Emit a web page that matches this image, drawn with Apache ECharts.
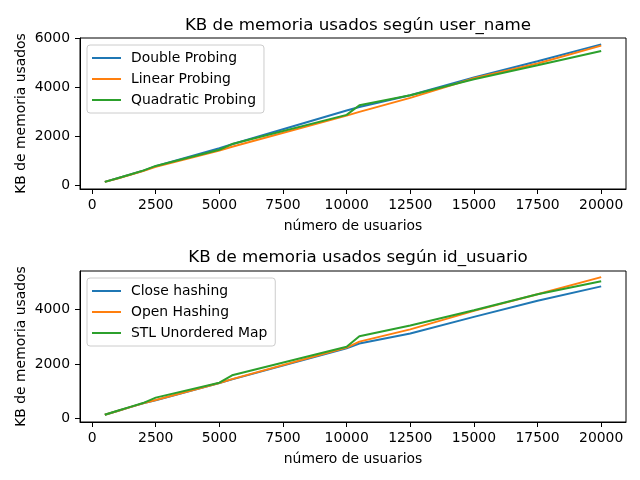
<!DOCTYPE html>
<html>
<head>
<meta charset="utf-8">
<script src="https://cdn.jsdelivr.net/npm/echarts@6/dist/echarts.min.js"></script>
<style>html,body{margin:0;padding:0;background:#fff}#c{width:640px;height:480px}</style>
</head>
<body>
<div id="c"></div>
<script>
const xs = [500, 1000, 1500, 2000, 2500, 5000, 5500, 10000, 10500, 12500, 15000, 17500, 20000];
const doubleProbing    = [150, 300, 450, 600, 790, 1520, 1680, 3060, 3200, 3680, 4400, 5060, 5750];
const linearProbing    = [150, 290, 440, 590, 760, 1430, 1580, 2850, 3000, 3570, 4370, 4970, 5700];
const quadraticProbing = [150, 300, 450, 610, 800, 1460, 1690, 2880, 3270, 3680, 4330, 4900, 5480];
const closeHashing     = [130, 270, 410, 550, 660, 1300, 1430, 2570, 2750, 3120, 3730, 4320, 4850];
const openHashing      = [130, 270, 410, 550, 670, 1300, 1440, 2600, 2820, 3270, 3950, 4560, 5190];
const stlUnordered     = [130, 280, 420, 560, 760, 1310, 1580, 2630, 3020, 3410, 3970, 4560, 5040];
const xTicks = [0, 2500, 5000, 7500, 10000, 12500, 15000, 17500, 20000];
const yTicksTop = [0, 2000, 4000, 6000];
const yTicksBottom = [0, 2000, 4000];
const titles = ['KB de memoria usados según user_name', 'KB de memoria usados según id_usuario'];
const topNames = ['Double Probing', 'Linear Probing', 'Quadratic Probing'];
const bottomNames = ['Close hashing', 'Open Hashing', 'STL Unordered Map'];
const colors = ['#1f77b4', '#ff7f0e', '#2ca02c'];

const pairs = arr => arr.map((v, i) => [xs[i], v]);
const font = 'DejaVu Sans';
const tickLabel = {color: '#000', fontSize: 13.9, fontFamily: font, formatter: v => String(v)};

function xAxis(gi) {
  return {
    type: 'value', gridIndex: gi, min: -475, max: 20975,
    name: 'número de usuarios', nameLocation: 'middle', nameGap: 30,
    nameTextStyle: {color: '#000', fontSize: 13.9, fontFamily: font},
    axisLine: {show: true, onZero: false, lineStyle: {color: '#000', width: 1}},
    axisTick: {show: true, length: 5, lineStyle: {color: '#000'}, customValues: xTicks},
    axisLabel: Object.assign({margin: 9, customValues: xTicks}, tickLabel),
    splitLine: {show: false}
  };
}
function yAxis(gi, min, max, ticks) {
  return {
    type: 'value', gridIndex: gi, min: min, max: max,
    name: 'KB de memoria usados', nameLocation: 'middle', nameGap: 52, nameRotate: 90,
    nameMoveOverlap: false,
    nameTextStyle: {color: '#000', fontSize: 13.9, fontFamily: font},
    axisLine: {show: true, onZero: false, lineStyle: {color: '#000', width: 1}},
    axisTick: {show: true, length: 5, lineStyle: {color: '#000'}, customValues: ticks},
    axisLabel: Object.assign({margin: 10, customValues: ticks}, tickLabel),
    splitLine: {show: false}
  };
}
function series(name, data, idx, gi) {
  return {
    type: 'line', name: name, data: pairs(data), xAxisIndex: gi, yAxisIndex: gi,
    symbol: 'none', color: colors[idx], lineStyle: {width: 2, color: colors[idx]},
    animation: false, z: 2 + idx
  };
}
function legend(names, top) {
  return {
    data: names, orient: 'vertical', left: 87, top: top,
    icon: 'path://M0,0L29,0L29,2L0,2Z', symbolKeepAspect: true,
    itemWidth: 29, itemHeight: 14, itemGap: 7,
    padding: [6, 8, 6, 5],
    borderColor: '#cccccc', borderWidth: 1, borderRadius: 3, backgroundColor: 'rgba(255,255,255,0.8)',
    textStyle: {color: '#000', fontSize: 13.9, fontFamily: font, padding: [0, 0, 0, 5]}
  };
}

const chart = echarts.init(document.getElementById('c'), null, {renderer: 'canvas'});
chart.setOption({
  animation: false,
  backgroundColor: '#fff',
  title: [
    {text: titles[0], left: 353, top: 12, textAlign: 'center', textStyle: {color: '#000', fontSize: 16.7, fontWeight: 'normal', fontFamily: font}},
    {text: titles[1], left: 353, top: 244, textAlign: 'center', textStyle: {color: '#000', fontSize: 16.7, fontWeight: 'normal', fontFamily: font}}
  ],
  grid: [
    {left: 80, top: 38, width: 546, height: 151, show: true, borderColor: '#000', borderWidth: 1, backgroundColor: 'transparent'},
    {left: 80, top: 271, width: 546, height: 151, show: true, borderColor: '#000', borderWidth: 1, backgroundColor: 'transparent'}
  ],
  legend: [legend(topNames, 45), legend(bottomNames, 278)],
  xAxis: [xAxis(0), xAxis(1)],
  yAxis: [yAxis(0, -140, 6010, yTicksTop), yAxis(1, -136, 5416, yTicksBottom)],
  series: [
    series(topNames[0], doubleProbing, 0, 0),
    series(topNames[1], linearProbing, 1, 0),
    series(topNames[2], quadraticProbing, 2, 0),
    series(bottomNames[0], closeHashing, 0, 1),
    series(bottomNames[1], openHashing, 1, 1),
    series(bottomNames[2], stlUnordered, 2, 1)
  ]
});
</script>
</body>
</html>
